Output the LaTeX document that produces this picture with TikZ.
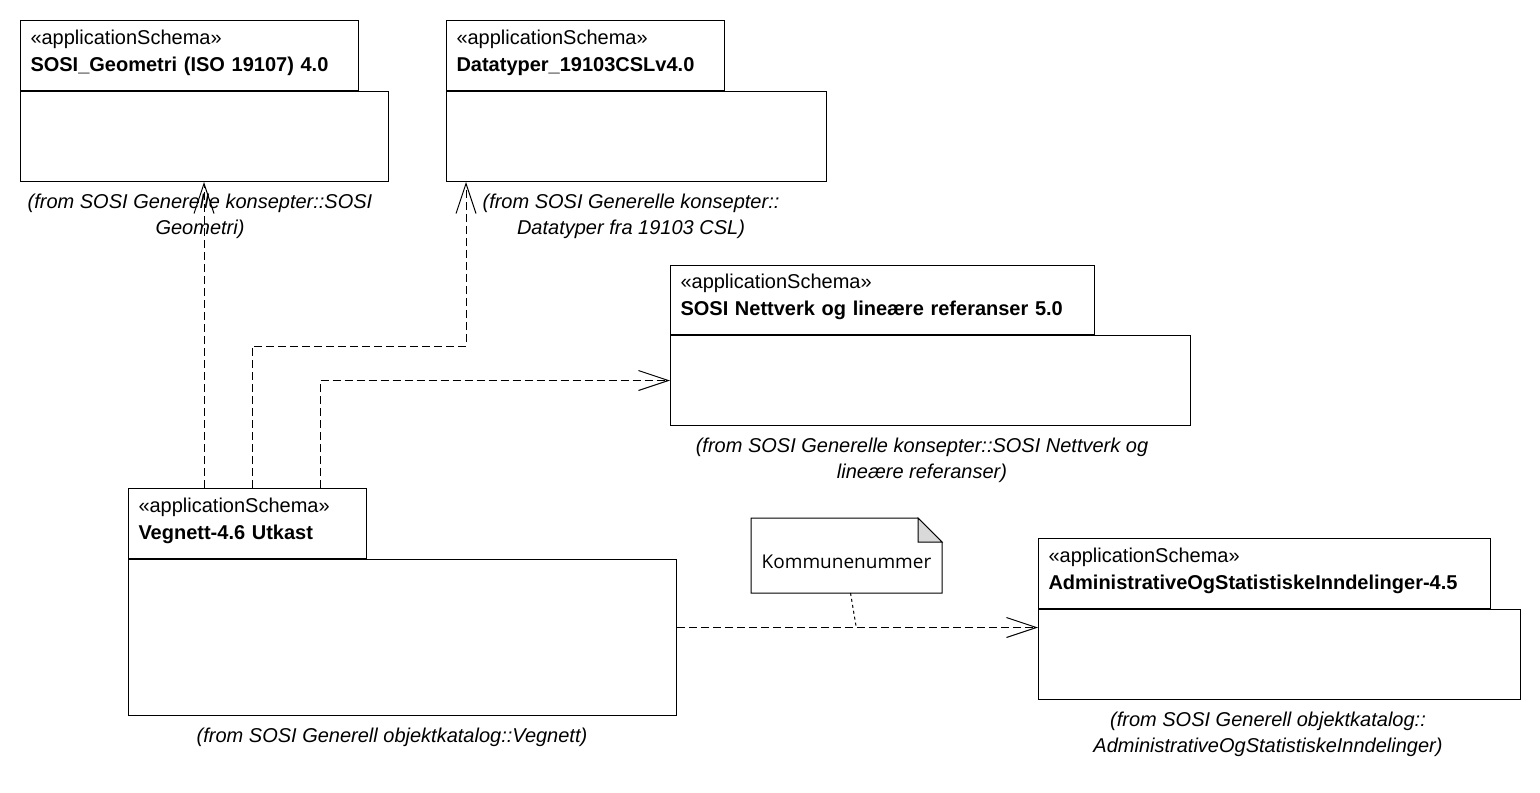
\documentclass[tikz,border=0pt]{standalone}
\usepackage{fontspec}
\setmainfont{Liberation Sans}
\newfontfamily\notefont{Open Sans}
\usetikzlibrary{arrows.meta,positioning}

\begin{document}
\begin{tikzpicture}[x=0.5pt, y=-0.5pt, line width=0.5pt,
        pkgtab/.style={rectangle, draw, anchor=north west, minimum height=35pt, inner xsep=5pt, inner ysep=0pt, align=left, execute at end node={\vspace{3pt}}, font=\fontsize{10pt}{13.5pt}\selectfont},
        pkgbody/.style={rectangle, draw, anchor=north west, minimum height=45pt, inner sep=0pt},
        dep/.style={draw, dash pattern=on 4pt off 2pt, -{Straight Barb[length=15pt, width=10pt]}},
        notelink/.style={draw, dash pattern=on 1.5pt off 1.5pt},
        origin/.style={align=center, font=\fontsize{10pt}{13pt}\selectfont\itshape},
        note/.style={rectangle, anchor=north west, minimum width=95pt, minimum height=37pt, text height=13.5pt, font=\notefont\fontsize{9.5pt}{11pt}\selectfont}
    ]

    % Fixed frame of the page
    \useasboundingbox (0,0) rectangle (1540,792);

    % Packages: tab with stereotype and name, body below
    \node[pkgtab, text width=159pt] (geomtab) at (20,20) {«applicationSchema»\\\textbf{SOSI\_Geometri (ISO 19107) 4.0}};
    \node[pkgbody, minimum width=184pt] (geom) at (geomtab.south west) {};

    \node[pkgtab, text width=129pt] (datatab) at (446,20) {«applicationSchema»\\\textbf{Datatyper\_19103CSLv4.0}};
    \node[pkgbody, minimum width=190pt] (data) at (datatab.south west) {};

    \node[pkgtab, text width=202pt, minimum height=34.5pt] (nettab) at (670,265) {«applicationSchema»\\\textbf{SOSI Nettverk og lineære referanser 5.0}};
    \node[pkgbody, minimum width=260pt] (net) at (nettab.south west) {};

    \node[pkgtab, text width=109pt] (vegtab) at (128,488) {«applicationSchema»\\\textbf{Vegnett-4.6 Utkast}};
    \node[pkgbody, minimum width=274pt, minimum height=78pt] (veg) at (vegtab.south west) {};

    \node[pkgtab, text width=216pt] (admtab) at (1038,538) {«applicationSchema»\\\textbf{AdministrativeOgStatistiskeInndelinger-4.5}};
    \node[pkgbody, minimum width=241pt] (adm) at (admtab.south west) {};

    % Where each package comes from
    \node[origin] (geomfrom) at (200,216) {(from SOSI Generelle konsepter::SOSI\\Geometri)};
    \node[origin] (datafrom) at (631,216) {(from SOSI Generelle konsepter::\\Datatyper fra 19103 CSL)};
    \node[origin] (netfrom) at (922,460) {(from SOSI Generelle konsepter::SOSI Nettverk og\\lineære referanser)};
    \node[origin] (vegfrom) at (392,737) {(from SOSI Generell objektkatalog::Vegnett)};
    \node[origin] (admfrom) at (1268,734) {(from SOSI Generell objektkatalog::\\AdministrativeOgStatistiskeInndelinger)};

    % Note with folded corner
    \node[note] (note) at (751,518) {Kommunenummer};
    \draw (note.north west) -- ([xshift=-12pt]note.north east) -- ([yshift=-12pt]note.north east) -- (note.south east) -- (note.south west) -- cycle;
    \filldraw[fill=gray!30] ([xshift=-12pt]note.north east) -- ([xshift=-12pt,yshift=-12pt]note.north east) -- ([yshift=-12pt]note.north east) -- cycle;

    % Dependencies
    \coordinate (databend) at (466,346);
    \coordinate (notefoot) at (856,626);
    \draw[dep] ([xshift=38pt]vegtab.north west) -- ([xshift=38pt]vegtab.north west |- geom.south);
    \draw[dep] ([xshift=62pt]vegtab.north west) |- (databend) -- (databend |- data.south);
    \draw[dep] ([xshift=96pt]vegtab.north west) |- (net.west);
    \draw[dep] ([yshift=5pt]veg.east) -- ([yshift=5pt]veg.east -| adm.west);
    \draw[notelink] ([xshift=2pt]note.south) -- (notefoot);

\end{tikzpicture}
\end{document}
